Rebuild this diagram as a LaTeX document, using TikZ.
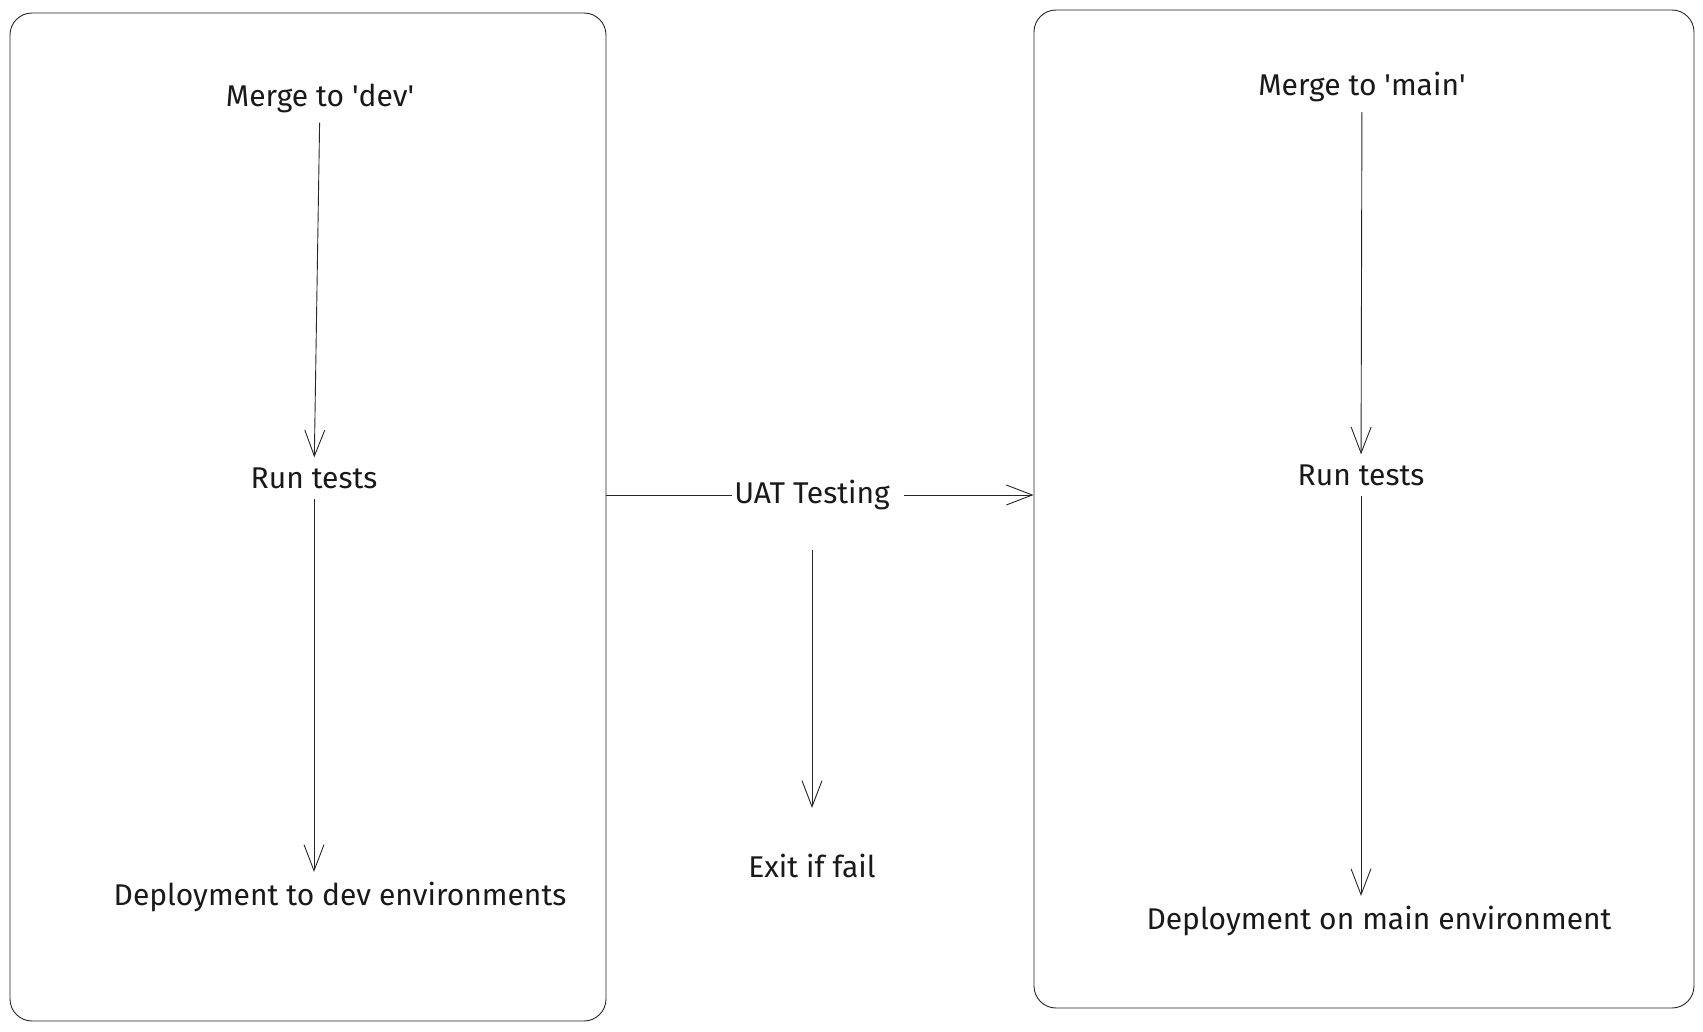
\documentclass[tikz,border=0pt]{standalone}
\usepackage{fontspec}
\setmainfont{Fira Sans}
\usetikzlibrary{arrows.meta, positioning}
\tikzset{
  panel/.style = {draw=black!85, line width=0.9pt, rounded corners=22pt, inner sep=0pt},
  label/.style = {font=\fontsize{30}{36}\selectfont, text=black!90, inner sep=10pt},
  flow/.style  = {draw=black!85, line width=0.9pt, -{Straight Barb[length=26pt,width=20pt,line width=0.9pt]}},
  link/.style  = {draw=black!85, line width=0.9pt}
}

\begin{document}
\begin{tikzpicture}[x=1pt, y=-1pt]

   % fix the page size
   \useasboundingbox (0,0) rectangle (1703,1031);

   % the two stages
   \node[panel, minimum width=596pt, minimum height=1008pt] (devbox) at (308,517) {};
   \node[panel, minimum width=660pt, minimum height=998pt] (mainbox) at (1364,509) {};

   % dev stage
   \node[label] (devmerge) at (320,98) {Merge to \textquotesingle dev\textquotesingle};
   \node[label] (devtests) at (314,478) {Run tests};
   \node[label] (devdeploy) at (340,897) {Deployment to dev environments};

   % main stage
   \node[label] (mainmerge) at (1362,87) {Merge to \textquotesingle main\textquotesingle};
   \node[label] (maintests) at (1361,475) {Run tests};
   \node[label] (maindeploy) at (1379,921) {Deployment on main environment};

   % between the stages
   \node[label, inner xsep=2pt] (uat) at (812,495) {UAT Testing};
   \node[label] (exit) at (812,866) {Exit if fail};

   % arrows
   \draw[flow] (devmerge) -- (devtests);
   \draw[flow] (devtests) -- (devtests |- devdeploy.north);
   \draw[flow] (mainmerge) -- (maintests);
   \draw[flow] (maintests) -- (maintests |- maindeploy.north);
   \draw[link] (devbox.east |- uat.west) -- (uat.west);
   \draw[flow, shorten <=12pt] (uat.east) -- (mainbox.west |- uat.east);
   \draw[flow, shorten <=30pt, shorten >=36pt] (uat) -- (exit);

\end{tikzpicture}
\end{document}
